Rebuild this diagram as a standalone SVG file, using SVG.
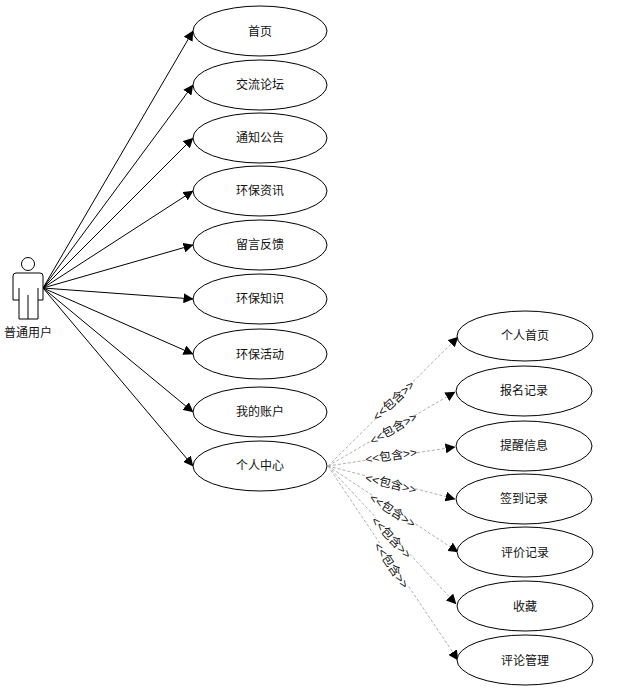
<svg xmlns="http://www.w3.org/2000/svg" width="619" height="694" viewBox="0 0 619 694">
<style>
text{font-family:"Liberation Sans","Noto Sans CJK SC",sans-serif;font-size:12px;fill:#111;text-anchor:middle;dominant-baseline:central}
.uc{fill:#fff;stroke:#000;stroke-width:1}
.a{stroke:#000;stroke-width:1;fill:none;marker-end:url(#tip)}
.d{stroke:#b0b0b0;stroke-width:1;stroke-dasharray:3 2;fill:none;marker-end:url(#tip)}
.actor{fill:#fff;stroke:#000;stroke-width:1}
.bg{fill:#fff;stroke:none}
</style>
<defs><marker id="tip" viewBox="0 0 10 10" refX="9.5" refY="5" markerWidth="10" markerHeight="10" markerUnits="userSpaceOnUse" orient="auto"><path d="M0 0L10 5L0 10Z" fill="#000"/></marker></defs>
<g id="connectors">
<path class="a" d="M43 288L193 31"/>
<path class="a" d="M43 288L193 85"/>
<path class="a" d="M43 288L193 138"/>
<path class="a" d="M43 288L193 191"/>
<path class="a" d="M43 288L193 245"/>
<path class="a" d="M43 288L193 299"/>
<path class="a" d="M43 288L193 354"/>
<path class="a" d="M43 288L193 412"/>
<path class="a" d="M43 288L193 466"/>
<path class="d" d="M328 466L458 337"/>
<path class="d" d="M328 466L455 392"/>
<path class="d" d="M328 466L455 447"/>
<path class="d" d="M328 466L455 499"/>
<path class="d" d="M328 466L458 552"/>
<path class="d" d="M328 466L456 604"/>
<path class="d" d="M328 466L458 660"/>
</g>
<g id="labels">
<g transform="translate(393 400) rotate(-43)"><rect class="bg" x="-25" y="-7" width="50" height="14"/><text y="1">&lt;&lt;包含&gt;&gt;</text></g>
<g transform="translate(393 428) rotate(-30)"><rect class="bg" x="-25" y="-7" width="50" height="14"/><text y="1">&lt;&lt;包含&gt;&gt;</text></g>
<g transform="translate(391 455) rotate(-8)"><rect class="bg" x="-25" y="-7" width="50" height="14"/><text y="1">&lt;&lt;包含&gt;&gt;</text></g>
<g transform="translate(391 483) rotate(14)"><rect class="bg" x="-25" y="-7" width="50" height="14"/><text y="1">&lt;&lt;包含&gt;&gt;</text></g>
<g transform="translate(393 510) rotate(33)"><rect class="bg" x="-25" y="-7" width="50" height="14"/><text y="1">&lt;&lt;包含&gt;&gt;</text></g>
<g transform="translate(392 537) rotate(47)"><rect class="bg" x="-25" y="-7" width="50" height="14"/><text y="1">&lt;&lt;包含&gt;&gt;</text></g>
<g transform="translate(392 565) rotate(56)"><rect class="bg" x="-25" y="-7" width="50" height="14"/><text y="1">&lt;&lt;包含&gt;&gt;</text></g>
</g>
<g id="actor">
<circle class="actor" cx="28" cy="264" r="6.5"/>
<path class="actor" d="M16 273H40Q43 273 43 276V300H38V319H19V300H13V276Q13 273 16 273Z"/>
<path class="actor" d="M19 288V300M38 288V300M28 295V319"/>
<text x="28" y="333">普通用户</text>
</g>
<g id="n1"><ellipse class="uc" cx="260" cy="31" rx="67" ry="25"/><text x="260" y="32">首页</text></g>
<g id="n2"><ellipse class="uc" cx="260" cy="85" rx="67" ry="25"/><text x="260" y="85">交流论坛</text></g>
<g id="n3"><ellipse class="uc" cx="260" cy="138" rx="67" ry="25"/><text x="260" y="138">通知公告</text></g>
<g id="n4"><ellipse class="uc" cx="260" cy="191" rx="67" ry="25"/><text x="260" y="191">环保资讯</text></g>
<g id="n5"><ellipse class="uc" cx="260" cy="245" rx="67" ry="25"/><text x="260" y="245">留言反馈</text></g>
<g id="n6"><ellipse class="uc" cx="260" cy="299" rx="67" ry="25"/><text x="260" y="299">环保知识</text></g>
<g id="n7"><ellipse class="uc" cx="260" cy="354" rx="67" ry="25"/><text x="260" y="355">环保活动</text></g>
<g id="n8"><ellipse class="uc" cx="260" cy="412" rx="67" ry="25"/><text x="260" y="412">我的账户</text></g>
<g id="n9"><ellipse class="uc" cx="260" cy="466" rx="67" ry="25"/><text x="260" y="466">个人中心</text></g>
<g id="s1"><ellipse class="uc" cx="525" cy="336" rx="68" ry="25"/><text x="525" y="336">个人首页</text></g>
<g id="s2"><ellipse class="uc" cx="524" cy="391" rx="68" ry="25"/><text x="524" y="391">报名记录</text></g>
<g id="s3"><ellipse class="uc" cx="524" cy="446" rx="68" ry="25"/><text x="524" y="446">提醒信息</text></g>
<g id="s4"><ellipse class="uc" cx="524" cy="499" rx="68" ry="25"/><text x="524" y="499">签到记录</text></g>
<g id="s5"><ellipse class="uc" cx="525" cy="552" rx="68" ry="25"/><text x="525" y="553">评价记录</text></g>
<g id="s6"><ellipse class="uc" cx="525" cy="606" rx="68" ry="25"/><text x="525" y="607">收藏</text></g>
<g id="s7"><ellipse class="uc" cx="525" cy="660" rx="68" ry="25"/><text x="525" y="661">评论管理</text></g>
</svg>
